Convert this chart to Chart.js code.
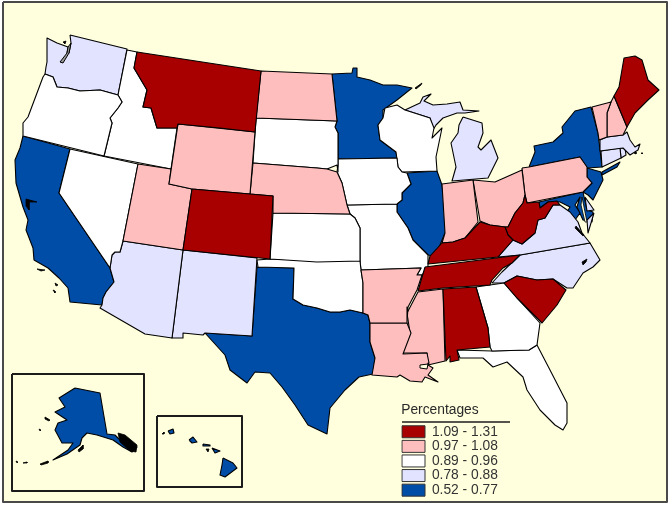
<!DOCTYPE html>
<html><head><meta charset="utf-8">
<style>html,body{margin:0;padding:0;background:#fff}canvas{display:block}</style>
<script src="https://cdn.jsdelivr.net/npm/chart.js@4"></script>
</head><body><canvas id="c" width="672" height="508"></canvas>
<script>
const legendTitle = "Percentages";
const classLabels = ["1.09 - 1.31","0.97 - 1.08","0.89 - 0.96","0.78 - 0.88","0.52 - 0.77"];
const classColors = ["#A80000","#FFBEBE","#FFFFFF","#E1E3FF","#004DA8"];

const highStates = ["Montana","Colorado","Tennessee","Kentucky","West Virginia","Alabama","South Carolina","Maine"];
const upperStates = ["North Dakota","Wyoming","Utah","Nebraska","Arkansas","Louisiana","Mississippi","Indiana","Ohio","Pennsylvania","Vermont","New Hampshire"];
const middleStates = ["Oregon","Idaho","Nevada","South Dakota","Kansas","Oklahoma","Iowa","Missouri","Wisconsin","Georgia","Florida"];
const lowerStates = ["Washington","Arizona","New Mexico","Michigan","Virginia","North Carolina","Massachusetts","Connecticut","Rhode Island","Delaware"];
const lowStates = ["California","Texas","Minnesota","Illinois","New York","New Jersey","Maryland","Alaska","Hawaii"];

// state outlines, in map units
const Washington=[[70,35],[127,49],[118,95],[100,90],[80,91],[68,88],[57,87],[53,77],[45,74],[46,67],[47,62],[47,38],[57,43],[68,47],[67,53],[69,53],[71,43]];
const Oregon=[[45,74],[53,77],[57,87],[68,88],[80,91],[100,90],[118,95],[122,102],[118,108],[110,118],[112,123],[104,156],[23,136],[23,123],[28,117],[37,93],[43,77]];
const Idaho=[[127,50],[137,52],[134,68],[147,90],[143,107],[151,108],[157,128],[177,128],[171,169],[104,156],[112,123],[110,118],[118,108],[122,102],[118,95]];
const Montana=[[137,52],[261,71],[255,132],[220,128],[178,124],[177,128],[157,128],[151,108],[143,107],[147,90],[134,68]];
const Wyoming=[[178,124],[255,132],[250,194],[192,189],[169,184]];
const Colorado=[[192,189],[273,196],[270,259],[183,250]];
const Utah=[[138,164],[171,169],[169,184],[192,189],[183,250],[123,241]];
const Nevada=[[70,149],[138,164],[123,241],[120,252],[115,252],[112,255],[110,268],[59,193]];
const California=[[23,136],[70,149],[59,193],[110,268],[114,282],[106,292],[103,298],[102,305],[70,302],[68,288],[59,278],[48,268],[34,260],[33,248],[26,230],[28,220],[23,207],[16,183],[15,160],[20,148]];
const Arizona=[[123,241],[183,250],[172,338],[145,334],[100,308],[102,305],[103,298],[106,292],[114,282],[110,268],[112,255],[115,252],[120,252]];
const NewMexico=[[183,250],[257,258],[252,336],[205,333],[203,335],[183,333],[183,338],[172,338]];
const Texas=[[257,267],[294,268],[293,299],[303,305],[317,308],[330,312],[340,312],[350,310],[363,313],[368,315],[370,323],[370,342],[375,358],[373,374],[359,377],[345,390],[330,408],[327,434],[308,425],[295,405],[282,387],[270,373],[255,372],[247,383],[230,370],[225,355],[205,333],[252,336]];
const Oklahoma=[[257,260],[258,267],[294,268],[293,299],[303,305],[317,308],[330,312],[340,312],[350,310],[363,313],[363,283],[361,270],[360,261],[270,259]];
const Kansas=[[273,213],[350,214],[355,218],[360,228],[360,261],[317,262],[270,259]];
const Nebraska=[[253,163],[317,168],[327,169],[337,172],[342,183],[347,205],[350,214],[273,213],[273,196],[250,194]];
const SouthDakota=[[256,118],[337,121],[335,127],[338,133],[338,172],[337,165],[327,169],[317,168],[253,163]];
const NorthDakota=[[261,71],[332,74],[337,121],[256,118]];
const Minnesota=[[332,74],[352,73],[353,68],[357,68],[357,77],[370,80],[383,85],[397,85],[412,88],[397,100],[383,110],[383,118],[378,125],[380,140],[396,152],[397,158],[338,159],[338,133],[335,127],[337,121]];
const Wisconsin=[[385,108],[397,105],[405,110],[430,118],[434,128],[432,138],[442,128],[436,157],[437,171],[402,172],[398,167],[396,152],[380,140],[378,125],[383,118]];
const Iowa=[[338,159],[397,158],[398,167],[402,172],[407,173],[411,184],[402,193],[402,200],[397,204],[347,205],[342,183],[337,172],[338,165]];
const Illinois=[[407,173],[437,171],[442,185],[447,230],[445,233],[440,245],[437,257],[428,255],[423,250],[413,240],[408,228],[397,212],[397,204],[402,200],[402,193],[411,184]];
const Missouri=[[347,205],[397,204],[397,212],[408,228],[413,240],[423,250],[428,255],[428,267],[422,275],[417,275],[421,268],[361,270],[360,261],[360,228],[355,218],[350,214]];
const Arkansas=[[361,270],[421,268],[417,275],[422,275],[417,290],[408,307],[407,323],[370,323],[368,315],[363,313],[363,283]];
const Louisiana=[[370,323],[407,323],[411,333],[403,354],[427,353],[429,363],[428,365],[433,368],[428,375],[438,382],[425,377],[422,382],[410,381],[400,375],[397,377],[372,375],[375,358],[370,342]];
const Mississippi=[[443,289],[418,292],[407,313],[410,333],[402,353],[427,353],[428,365],[445,361]];
const Alabama=[[443,289],[476,287],[488,328],[490,347],[457,350],[459,360],[450,362],[450,356],[446,361]];
const Georgia=[[476,287],[504,283],[517,298],[540,323],[537,345],[529,350],[492,351],[490,347],[488,328]];
const Florida=[[457,350],[492,351],[529,350],[537,345],[550,370],[567,403],[567,423],[563,430],[555,425],[540,410],[527,390],[523,377],[507,362],[493,367],[483,358],[460,358]];
const SouthCarolina=[[504,283],[517,276],[537,280],[553,279],[566,290],[557,305],[542,323],[517,298]];
const NorthCarolina=[[492,283],[502,272],[520,255],[590,243],[600,260],[593,267],[583,273],[573,288],[567,288],[553,279],[537,280],[517,276],[504,283]];
const Tennessee=[[425,267],[520,255],[512,263],[503,268],[492,280],[490,285],[443,288],[418,291]];
const Kentucky=[[430,256],[442,243],[453,242],[465,238],[480,222],[490,225],[505,227],[508,235],[513,240],[498,257],[428,264]];
const Indiana=[[442,184],[473,180],[478,222],[465,238],[453,242],[442,243],[445,233]];
const Ohio=[[473,180],[495,182],[522,170],[525,195],[523,203],[515,213],[508,227],[505,227],[490,225],[480,221]];
const Pennsylvania=[[522,168],[529,167],[580,157],[587,167],[587,177],[592,183],[583,192],[527,203],[525,195]];
const NewYork=[[529,167],[535,152],[534,146],[553,142],[563,133],[562,127],[575,111],[591,107],[598,133],[602,167],[587,168],[580,157]];
const LongIsland=[[602,172],[620,162],[617,167],[602,175]];
const NewJersey=[[587,168],[601,172],[603,180],[598,190],[593,200],[588,195],[583,192],[592,183],[587,177]];
const Vermont=[[592,107],[611,102],[607,113],[607,137],[599,140],[598,133]];
const NewHampshire=[[611,102],[614,96],[627,127],[623,135],[607,137],[607,113]];
const Maine=[[614,96],[619,87],[624,58],[635,56],[642,60],[648,80],[659,90],[648,100],[635,113],[627,127]];
const Massachusetts=[[600,140],[607,137],[623,135],[627,132],[630,140],[635,147],[640,144],[638,150],[630,155],[623,148],[600,151]];
const Connecticut=[[601,151],[620,148],[621,158],[602,167]];
const RhodeIsland=[[620,148],[625,148],[626,155],[621,158]];
const Maryland=[[539,202],[583,192],[587,210],[593,212],[592,222],[583,220],[577,207],[580,197],[575,205],[580,213],[575,220],[567,212],[570,207],[560,202],[548,202],[540,208]];
const Delaware=[[585,197],[594,210],[587,211]];
const WestVirginia=[[525,195],[527,203],[539,202],[540,208],[548,202],[557,201],[560,205],[553,205],[545,218],[538,220],[535,233],[522,244],[513,240],[508,235],[505,227],[508,227],[515,213],[523,203]];
const Virginia=[[560,205],[570,212],[578,222],[582,233],[590,243],[520,255],[498,257],[513,240],[522,244],[535,233],[538,220],[545,218],[553,205]];
const VirginiaShore=[[594,213],[588,233],[587,220]];
const MichiganLower=[[463,117],[482,123],[483,133],[478,147],[481,150],[491,140],[498,158],[488,178],[452,181],[456,167],[451,143],[458,133],[459,125]];
const MichiganUpper=[[405,110],[420,103],[423,97],[431,94],[424,101],[433,105],[447,104],[460,102],[463,110],[479,111],[465,113],[457,113],[443,118],[436,125],[433,130],[430,118]];
const Alaska=[[75,388],[100,393],[107,434],[115,435],[122,442],[137,447],[132,452],[123,447],[113,440],[97,435],[87,433],[82,438],[80,445],[67,454],[53,460],[68,450],[73,443],[62,443],[55,430],[58,423],[67,420],[55,412],[65,407],[59,398],[67,393]];
const HawaiiBig=[[223,458],[233,463],[237,468],[225,477],[220,475],[222,465]];
const Maui=[[212,448],[220,451],[215,453]];
const Molokai=[[203,444],[210,445],[210,446],[203,446]];
const Oahu=[[189,440],[193,437],[197,442],[192,443]];
const Kauai=[[168,431],[173,429],[174,433],[170,434]];
// small island groups and sounds that print nearly solid
const pugetIsles=[[63,42],[66,41],[65,44]];
const channelIslands=[[37,269],[45,270],[41,271]];
const channelSouth=[[55,283],[58,285],[56,286]];
const channelSouth2=[[53,290],[55,291],[55,293]];
const isleRoyale=[[415,88],[422,83],[421,85],[416,89]];
const panhandle=[[118,433],[125,435],[137,445],[136,452],[130,451],[120,442]];
const kodiak=[[78,450],[83,445],[83,449],[79,452]];
const aleutianA=[[40,464],[48,461],[48,463],[41,465]];
const aleutianB=[[16,461],[18,462],[17,463]];
const aleutianC=[[23,463],[27,462],[27,463]];
const stLawrence=[[45,417],[50,420],[49,421],[45,419]];
const nunivak=[[39,429],[41,430],[40,431]];
const niihau=[[162,434],[164,432],[164,434]];
const lanai=[[206,449],[209,449],[208,452]];
const bayArea=[[26,199],[37,202],[29,202],[29,210],[26,206]];
const nantucket=[[641,153],[643,153],[642,154]];
const marthas=[[634,153],[636,152],[636,154]];
const pamlico=[[582,262],[587,259],[586,262],[583,265]];
const jamesRiver=[[576,226],[584,235],[583,236],[575,228]];
const chesapeake=[[582,197],[587,222],[585,222],[581,205]];
const pugetSound=[[60,62],[63,63],[69,53],[71,43],[68,47],[67,53]];
const pontchartrain=[[420,365],[428,364],[427,369],[420,368]];

const framePts=[[3,2],[667,2],[667,502],[3,502]];
const alaskaBox=[[12,374],[144,374],[144,491],[12,491]];
const hawaiiBox=[[157,416],[242,416],[242,487],[157,487]];
const legendRule=[[402,422],[510,422]];

const shapes={"Washington":[Washington],"Oregon":[Oregon],"Idaho":[Idaho],"Montana":[Montana],"Wyoming":[Wyoming],"Colorado":[Colorado],"Utah":[Utah],"Nevada":[Nevada],"California":[California],"Arizona":[Arizona],"New Mexico":[NewMexico],"Texas":[Texas],"Oklahoma":[Oklahoma],"Kansas":[Kansas],"Nebraska":[Nebraska],"South Dakota":[SouthDakota],"North Dakota":[NorthDakota],"Minnesota":[Minnesota],"Wisconsin":[Wisconsin],"Iowa":[Iowa],"Illinois":[Illinois],"Missouri":[Missouri],"Arkansas":[Arkansas],"Louisiana":[Louisiana],"Mississippi":[Mississippi],"Alabama":[Alabama],"Georgia":[Georgia],"Florida":[Florida],"South Carolina":[SouthCarolina],"North Carolina":[NorthCarolina],"Tennessee":[Tennessee],"Kentucky":[Kentucky],"Indiana":[Indiana],"Ohio":[Ohio],"Pennsylvania":[Pennsylvania],"New York":[NewYork,LongIsland],"New Jersey":[NewJersey],"Vermont":[Vermont],"New Hampshire":[NewHampshire],"Maine":[Maine],"Massachusetts":[Massachusetts],"Connecticut":[Connecticut],"Rhode Island":[RhodeIsland],"Maryland":[Maryland],"Delaware":[Delaware],"West Virginia":[WestVirginia],"Virginia":[Virginia,VirginiaShore],"Michigan":[MichiganLower,MichiganUpper],"Alaska":[Alaska],"Hawaii":[HawaiiBig,Maui,Molokai,Oahu,Kauai]};
const darkIslands=[pugetIsles,channelIslands,channelSouth,channelSouth2,isleRoyale,panhandle,kodiak,aleutianA,aleutianB,aleutianC,stLawrence,nunivak,niihau,lanai,bayArea,nantucket,marthas,pamlico,jamesRiver];
const classes=[highStates,upperStates,middleStates,lowerStates,lowStates];

const toPts=r=>r.concat([r[0]]).map(p=>({x:p[0],y:p[1]}));
const poly=(label,ring,fillColor,line,width)=>({label,data:toPts(ring),showLine:true,fill:fillColor?'shape':false,backgroundColor:fillColor||'transparent',borderColor:line,borderWidth:width,pointRadius:0,pointHoverRadius:0,tension:0,borderJoinStyle:'round',clip:false});

const datasets=[];
darkIslands.forEach(r=>datasets.push(poly('island',r,'#000','#000',0.8)));
datasets.push(poly('Puget Sound',pugetSound,'#9a9a9a','#000',1));
datasets.push(poly('Lake Pontchartrain',pontchartrain,'#FFFFDE','#000',1));
datasets.push(poly('Chesapeake Bay',chesapeake,'#FFFFDE','#000',0.8));
classes.forEach((list,i)=>list.forEach(name=>shapes[name].forEach(r=>datasets.push(poly(name,r,classColors[i],'#000',1.1)))));
datasets.push(poly('Alaska inset',alaskaBox,null,'#1c1c1c',2));
datasets.push(poly('Hawaii inset',hawaiiBox,null,'#1c1c1c',2));
datasets.push({label:'legend rule',data:legendRule.map(p=>({x:p[0],y:p[1]})),showLine:true,borderColor:'#1c1c1c',borderWidth:1.6,pointRadius:0,clip:false});
datasets.push(poly('frame',framePts,'#FFFFDE','#4a4a4a',2));

const placeLegend={id:'placeLegend',
 afterLayout(chart){const l=chart.legend;l.left=401.2;l.top=401;l.right=530;l.bottom=500;l.width=129;l.height=99;},
 afterDatasetsDraw(chart){chart.legend.draw();}
};

new Chart(document.getElementById('c'),{
 type:'scatter',
 data:{datasets},
 plugins:[placeLegend],
 options:{
  responsive:false,animation:false,devicePixelRatio:1,
  layout:{padding:0},
  scales:{x:{type:'linear',min:0,max:672,display:false},y:{type:'linear',min:0,max:508,reverse:true,display:false}},
  plugins:{
   tooltip:{enabled:false},
   legend:{display:true,position:'chartArea',align:'start',
    title:{display:true,text:legendTitle,color:'#2a2a2a',position:'start',padding:{top:2.5,bottom:4},font:{family:'"Liberation Sans"',size:13.8}},
    labels:{boxWidth:23,boxHeight:12,padding:0.8,color:'#333',font:{family:'"Liberation Sans"',size:13.8},
     generateLabels:()=>classLabels.map((t,i)=>({text:t,fillStyle:classColors[i],strokeStyle:'#333',lineWidth:1,fontColor:'#333',hidden:false,datasetIndex:0}))}
   }
  }
 }
});
</script></body></html>
